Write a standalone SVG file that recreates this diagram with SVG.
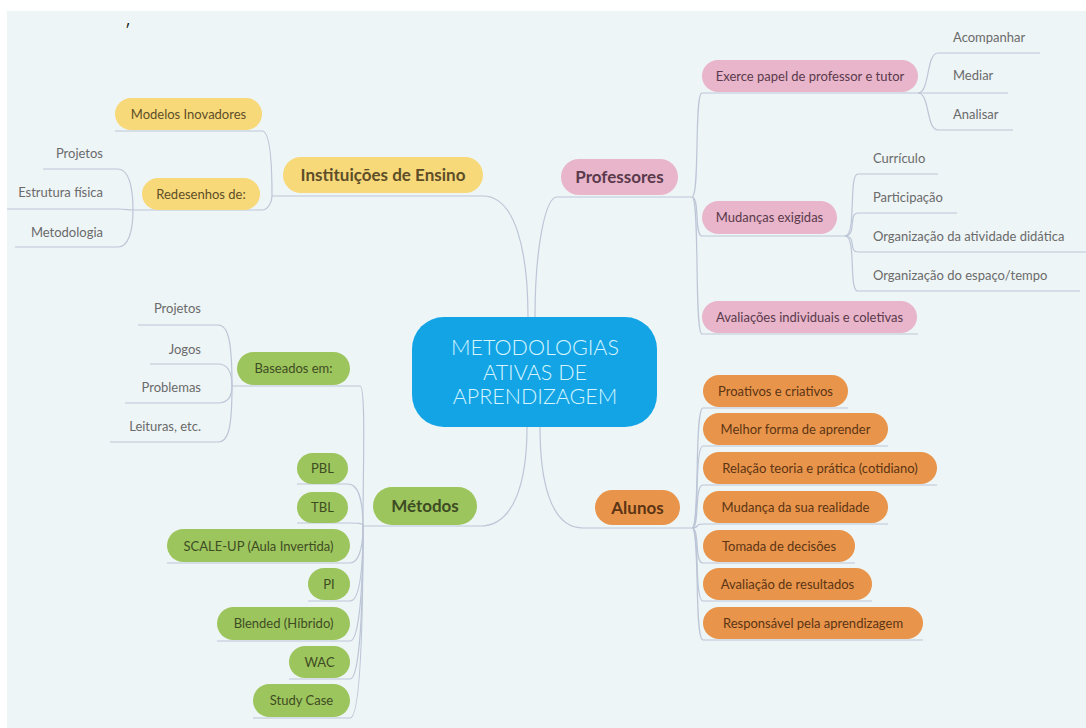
<svg xmlns="http://www.w3.org/2000/svg" width="1086" height="728" viewBox="0 0 1086 728">
<style>
text{font-family:Lato,"Open Sans","Liberation Sans",sans-serif}
.c{fill:none;stroke:#bcc6d6;stroke-width:1.2}
.y{fill:#f8d97a}.p{fill:#e8b5ca}.g{fill:#9dc55d}.o{fill:#e8954b}
.t{font-size:13px;text-anchor:middle}
.ty{fill:#5e4e28}.tp{fill:#5a3a4c}.tg{fill:#3e4c24}.to{fill:#5c3414}
.b{font-size:17px;font-weight:bold;text-anchor:middle}
.l{font-size:13px;fill:#6a6a6a}
.e{text-anchor:end}
</style>
<rect x="0" y="0" width="1086" height="728" fill="#ffffff"/>
<rect x="7" y="11" width="1079" height="717" fill="#eef5f7"/>
<text x="125" y="36" font-size="16" fill="#111">′</text>
<g id="connectors">
<path class="c" d="M483,196 C515,196 528,250 528,317"/>
<path class="c" d="M557,197 C545,197 535,250 535,317"/>
<path class="c" d="M527,427 C527,480 515,526 480,526"/>
<path class="c" d="M540,427 C540,480 550,528 583,528"/>
<path class="c" d="M272,196 H483"/>
<path class="c" d="M115,131 H262 C270,131 272,160 272,196"/>
<path class="c" d="M133,210 H262 C268,210 272,202 272,196"/>
<path class="c" d="M43,169 H118 C128,169 133,185 133,210"/>
<path class="c" d="M7,209 H118 C126,209 128,210 133,210"/>
<path class="c" d="M15,247 H118 C128,247 133,232 133,210"/>
<path class="c" d="M557,197 H692"/>
<path class="c" d="M692,197 C700,197 694,93 702,93 H918"/>
<path class="c" d="M692,197 C700,197 694,236 702,236 H845"/>
<path class="c" d="M692,197 C700,197 694,334 702,334 H918"/>
<path class="c" d="M918,93 C930,93 926,53 938,53 H1040"/>
<path class="c" d="M918,93 H1008"/>
<path class="c" d="M918,93 C930,93 926,130 938,130 H1013"/>
<path class="c" d="M845,236 C857,236 848,174 858,174 H938"/>
<path class="c" d="M845,236 C857,236 848,213 858,213 H957"/>
<path class="c" d="M845,236 C857,236 848,252 858,252 H1086"/>
<path class="c" d="M845,236 C857,236 848,291 858,291 H1080"/>
<path class="c" d="M363,526 H480"/>
<path class="c" d="M363,526 C363,470 366,386 360,386 H232"/>
<path class="c" d="M232,386 C232,340 228,325 218,325 H138"/>
<path class="c" d="M232,386 C232,372 228,364 218,364 H150"/>
<path class="c" d="M232,386 C232,396 228,403 218,403 H125"/>
<path class="c" d="M232,386 C232,430 228,442 218,442 H110"/>
<path class="c" d="M363,526 C363,500 358,484 348,484 H297"/>
<path class="c" d="M363,526 C363,523 358,523 348,523 H297"/>
<path class="c" d="M363,526 C363,550 358,563 350,563 H167"/>
<path class="c" d="M363,526 C363,580 358,601 350,601 H308"/>
<path class="c" d="M363,526 C363,600 358,641 350,641 H217"/>
<path class="c" d="M363,526 C363,630 358,679 350,679 H289"/>
<path class="c" d="M363,526 C363,660 358,718 350,718 H253"/>
<path class="c" d="M583,528 H692"/>
<path class="c" d="M692,528 C700,528 694,408 703,408 H848"/>
<path class="c" d="M692,528 C700,528 694,446 703,446 H888"/>
<path class="c" d="M692,528 C700,528 694,485 703,485 H937"/>
<path class="c" d="M692,528 C700,528 694,524 703,524 H888"/>
<path class="c" d="M692,528 C700,528 694,563 703,563 H855"/>
<path class="c" d="M692,528 C700,528 694,601 703,601 H872"/>
<path class="c" d="M692,528 C700,528 694,640 703,640 H923"/>
</g>
<g id="center">
<rect x="412" y="317" width="245" height="110" rx="32" fill="#13a4e6"/>
<text x="535" y="355" font-size="21.5" font-weight="300" text-anchor="middle" fill="#d6f5ff">METODOLOGIAS</text>
<text x="535" y="380" font-size="21.5" font-weight="300" text-anchor="middle" fill="#d6f5ff">ATIVAS DE</text>
<text x="535" y="404" font-size="21.5" font-weight="300" text-anchor="middle" fill="#d6f5ff">APRENDIZAGEM</text>
</g>
<g id="instituicoes"><rect class="y" x="283" y="157" width="200" height="36" rx="18"/><text class="b ty" x="383" y="181">Instituições de Ensino</text></g>
<g id="modelos"><rect class="y" x="115" y="98" width="147" height="32" rx="16"/><text class="t ty" x="188.5" y="118.5">Modelos Inovadores</text></g>
<g id="redesenhos"><rect class="y" x="142" y="178" width="118" height="32" rx="16"/><text class="t ty" x="201" y="198.5">Redesenhos de:</text></g>
<g id="leaf-projetos1"><text class="l e" x="103" y="157.5">Projetos</text></g>
<g id="leaf-estrutura"><text class="l e" x="103" y="196.5">Estrutura física</text></g>
<g id="leaf-metodologia"><text class="l e" x="103" y="236.5">Metodologia</text></g>
<g id="professores"><rect class="p" x="561" y="159" width="117" height="36" rx="18"/><text class="b tp" x="619.5" y="183">Professores</text></g>
<g id="exerce"><rect class="p" x="702" y="60" width="216" height="32" rx="16"/><text class="t tp" x="810" y="80.5">Exerce papel de professor e tutor</text></g>
<g id="leaf-acompanhar"><text class="l" x="953" y="41.5">Acompanhar</text></g>
<g id="leaf-mediar"><text class="l" x="953" y="79.5">Mediar</text></g>
<g id="leaf-analisar"><text class="l" x="953" y="118.5">Analisar</text></g>
<g id="mudancas"><rect class="p" x="702" y="201" width="135" height="33" rx="16.5"/><text class="t tp" x="769.5" y="222">Mudanças exigidas</text></g>
<g id="leaf-curriculo"><text class="l" x="873" y="162.5">Currículo</text></g>
<g id="leaf-participacao"><text class="l" x="873" y="201.5">Participação</text></g>
<g id="leaf-org-atividade"><text class="l" x="873" y="240.5">Organização da atividade didática</text></g>
<g id="leaf-org-espaco"><text class="l" x="873" y="279.5">Organização do espaço/tempo</text></g>
<g id="avaliacoes"><rect class="p" x="702" y="301" width="215" height="32" rx="16"/><text class="t tp" x="809.5" y="321.5">Avaliações individuais e coletivas</text></g>
<g id="metodos"><rect class="g" x="373" y="487" width="104" height="38" rx="19"/><text class="b tg" x="425" y="512">Métodos</text></g>
<g id="baseados"><rect class="g" x="237" y="352" width="113" height="33" rx="16.5"/><text class="t tg" x="293.5" y="373">Baseados em:</text></g>
<g id="leaf-projetos2"><text class="l e" x="201" y="312.5">Projetos</text></g>
<g id="leaf-jogos"><text class="l e" x="201" y="353.5">Jogos</text></g>
<g id="leaf-problemas"><text class="l e" x="201" y="391.5">Problemas</text></g>
<g id="leaf-leituras"><text class="l e" x="201" y="430.5">Leituras, etc.</text></g>
<g id="pbl"><rect class="g" x="297" y="453" width="51" height="31" rx="15.5"/><text class="t tg" x="322.5" y="473">PBL</text></g>
<g id="tbl"><rect class="g" x="297" y="492" width="51" height="31" rx="15.5"/><text class="t tg" x="322.5" y="512">TBL</text></g>
<g id="scaleup"><rect class="g" x="167" y="529" width="183" height="33" rx="16.5"/><text class="t tg" x="258.5" y="550.5">SCALE-UP (Aula Invertida)</text></g>
<g id="pi"><rect class="g" x="308" y="568" width="42" height="32" rx="16"/><text class="t tg" x="329" y="588.5">PI</text></g>
<g id="blended"><rect class="g" x="217" y="607" width="133" height="33" rx="16.5"/><text class="t tg" x="283.5" y="628">Blended (Híbrido)</text></g>
<g id="wac"><rect class="g" x="289" y="646" width="61" height="32" rx="16"/><text class="t tg" x="319.5" y="666.5">WAC</text></g>
<g id="studycase"><rect class="g" x="253" y="684" width="97" height="33" rx="16.5"/><text class="t tg" x="301.5" y="705">Study Case</text></g>
<g id="alunos"><rect class="o" x="595" y="490" width="85" height="35" rx="17.5"/><text class="b to" x="637.5" y="513.5">Alunos</text></g>
<g id="proativos"><rect class="o" x="703" y="375" width="145" height="32" rx="16"/><text class="t to" x="775.5" y="395.5">Proativos e criativos</text></g>
<g id="melhor"><rect class="o" x="703" y="413" width="185" height="32" rx="16"/><text class="t to" x="795.5" y="433.5">Melhor forma de aprender</text></g>
<g id="relacao"><rect class="o" x="703" y="452" width="234" height="32" rx="16"/><text class="t to" x="820" y="472.5">Relação teoria e prática (cotidiano)</text></g>
<g id="mudanca"><rect class="o" x="703" y="491" width="185" height="32" rx="16"/><text class="t to" x="795.5" y="511.5">Mudança da sua realidade</text></g>
<g id="tomada"><rect class="o" x="703" y="530" width="152" height="32" rx="16"/><text class="t to" x="779" y="550.5">Tomada de decisões</text></g>
<g id="avaliacao"><rect class="o" x="703" y="568" width="169" height="32" rx="16"/><text class="t to" x="787.5" y="588.5">Avaliação de resultados</text></g>
<g id="responsavel"><rect class="o" x="703" y="607" width="220" height="32" rx="16"/><text class="t to" x="813" y="627.5">Responsável pela aprendizagem</text></g>
</svg>
